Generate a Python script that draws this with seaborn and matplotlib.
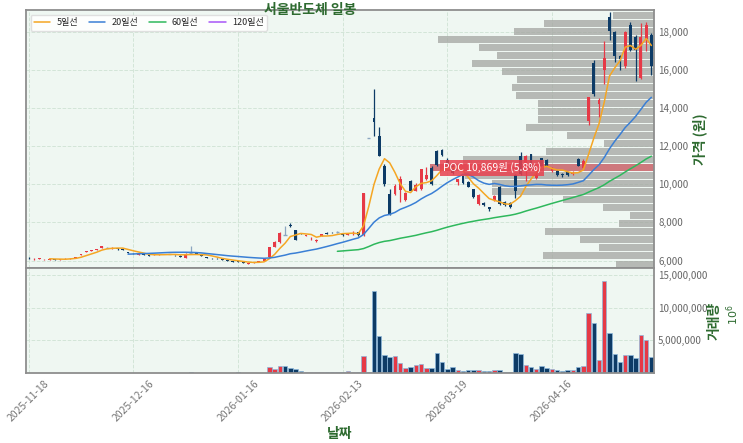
import numpy as np
import pandas as pd
import matplotlib
matplotlib.use('Agg')
import matplotlib.pyplot as plt
import matplotlib.transforms as mtransforms
from matplotlib.ticker import FuncFormatter
import seaborn as sns

sns.set_theme(style='whitegrid')
plt.rcParams['font.family'] = ['Noto Sans CJK KR', 'DejaVu Sans']
plt.rcParams['axes.unicode_minus'] = False

# daily candles (120 trading days, 2025-11-18 ~)
opens = [6150, 6060, 6090, 6030, 6050, 6080, 6050, 6090, 6110, 6140,
         6280, 6440, 6490, 6540, 6650, 6680, 6620, 6640, 6600, 6460,
         6370, 6300, 6320, 6290, 6280, 6310, 6330, 6340, 6300, 6260,
         6150, 6380, 6400, 6350, 6200, 6140, 6100, 6060, 6010, 5980,
         5960, 5920, 5820, 5860, 5930, 6000, 6170, 6720, 6950, 7340,
         7860, 7580, 7430, 7300, 7170, 7000, 7300, 7420, 7470, 7490,
         7380, 7360, 7440, 7500, 7320, 12410, 13470, 12510, 10980, 9500,
         9480, 9700, 9150, 10150, 9650, 9750, 10250, 10870, 11750, 11780,
         11250, 10950, 10100, 10450, 10100, 9730, 8950, 9030, 8800, 9150,
         9850, 9050, 9000, 10500, 11500, 10690, 11560, 10350, 11380, 11250,
         10700, 10720, 10560, 10640, 10550, 11300, 10860, 13300, 16370, 14200,
         16000, 18780, 18000, 16700, 16170, 18350, 17730, 15560, 17590, 17830]
highs = [6170, 6110, 6140, 6060, 6090, 6090, 6080, 6120, 6160, 6210,
         6350, 6520, 6550, 6600, 6780, 6730, 6700, 6650, 6630, 6470,
         6380, 6340, 6330, 6300, 6320, 6340, 6360, 6370, 6310, 6270,
         6380, 6740, 6420, 6360, 6210, 6150, 6110, 6070, 6020, 5990,
         5970, 5930, 5860, 5910, 5990, 6070, 6700, 7000, 7490, 7820,
         7950, 7600, 7450, 7350, 7210, 7110, 7410, 7480, 7520, 7560,
         7390, 7470, 7560, 7510, 9550, 12410, 14980, 13000, 11050, 9750,
         10020, 10450, 9600, 10200, 10050, 10800, 10900, 10950, 11800, 11850,
         11350, 11000, 10300, 10500, 10150, 9760, 9500, 9060, 8830, 9420,
         9900, 9100, 9050, 10550, 11700, 11550, 11600, 10700, 11400, 11300,
         10900, 10750, 10600, 10660, 10700, 11350, 11300, 14570, 16500, 14530,
         17480, 19040, 18050, 16750, 18050, 18500, 17800, 18430, 18520, 17900]
lows = [6100, 6050, 6080, 6020, 6040, 6040, 6040, 6080, 6100, 6130,
        6270, 6430, 6480, 6530, 6640, 6650, 6600, 6580, 6560, 6400,
        6320, 6290, 6290, 6250, 6270, 6300, 6320, 6320, 6260, 6200,
        6140, 6350, 6350, 6220, 6140, 6100, 6060, 6010, 5980, 5940,
        5920, 5870, 5800, 5850, 5920, 5990, 6160, 6700, 6940, 7320,
        7780, 7080, 7380, 7280, 7100, 6950, 7280, 7390, 7440, 7470,
        7310, 7350, 7340, 7300, 7300, 12410, 12540, 11460, 9900, 8400,
        9450, 9060, 9100, 9620, 9620, 9700, 10200, 9950, 10950, 11500,
        10950, 10550, 9950, 10000, 9830, 9280, 8900, 8880, 8600, 9100,
        8900, 8880, 8780, 9300, 10500, 10170, 10850, 10300, 10930, 10930,
        10650, 10450, 10400, 10450, 10500, 10930, 10800, 13100, 14600, 13500,
        15240, 17560, 16430, 16000, 16100, 17000, 15400, 15500, 16960, 15740]
closes = [6110, 6100, 6130, 6050, 6080, 6050, 6070, 6100, 6150, 6200,
          6340, 6510, 6540, 6590, 6760, 6680, 6650, 6590, 6580, 6420,
          6330, 6330, 6300, 6260, 6310, 6330, 6350, 6340, 6270, 6210,
          6370, 6380, 6360, 6230, 6150, 6110, 6070, 6020, 5990, 5950,
          5930, 5880, 5850, 5900, 5980, 6060, 6690, 6980, 7470, 7340,
          7810, 7100, 7390, 7340, 7200, 7100, 7400, 7400, 7450, 7490,
          7320, 7460, 7460, 7320, 9550, 12410, 13240, 11500, 10000, 8450,
          9900, 10300, 9520, 9650, 9980, 10780, 10500, 10000, 11000, 11550,
          11050, 10600, 10280, 10050, 9850, 9330, 9450, 8900, 8720, 9380,
          8950, 8900, 8800, 9650, 10540, 11470, 10870, 10500, 10950, 10950,
          10850, 10500, 10480, 10500, 10600, 10950, 11210, 14570, 14730, 14420,
          16610, 18030, 16700, 16580, 18000, 17040, 17040, 17730, 18370, 16170]
volumes = [60e3, 20e3, 20e3, 20e3, 20e3, 20e3, 20e3, 20e3, 20e3, 60e3,
           20e3, 60e3, 20e3, 20e3, 60e3, 20e3, 20e3, 60e3, 20e3, 20e3,
           20e3, 20e3, 20e3, 60e3, 20e3, 20e3, 20e3, 20e3, 20e3, 20e3,
           20e3, 80e3, 20e3, 60e3, 60e3, 20e3, 20e3, 20e3, 60e3, 60e3,
           80e3, 30e3, 60e3, 60e3, 60e3, 60e3, 0.86e6, 0.65e6, 1.06e6, 1.06e6,
           0.76e6, 0.55e6, 0.35e6, 0.12e6, 0.12e6, 0.12e6, 0.12e6, 0.10e6, 0.08e6, 0.12e6,
           0.08e6, 0.35e6, 0.10e6, 0.10e6, 2.67e6, 0.20e6, 12.6e6, 5.6e6, 2.8e6, 2.5e6,
           2.6e6, 1.5e6, 0.75e6, 0.85e6, 1.2e6, 1.4e6, 0.8e6, 0.8e6, 3.0e6, 1.7e6,
           0.6e6, 0.9e6, 0.4e6, 0.3e6, 0.5e6, 0.5e6, 0.4e6, 0.3e6, 0.3e6, 0.5e6,
           0.5e6, 0.2e6, 0.1e6, 3.1e6, 2.9e6, 1.3e6, 0.9e6, 0.6e6, 1.1e6, 0.7e6,
           0.6e6, 0.4e6, 0.3e6, 0.5e6, 0.5e6, 0.9e6, 1.1e6, 9.1e6, 7.6e6, 2.0e6,
           14.1e6, 6.1e6, 2.85e6, 1.65e6, 2.7e6, 2.8e6, 2.25e6, 5.75e6, 5.1e6, 2.5e6]

tick_pos = [0, 20, 40, 60, 80, 100]
tick_labels = ['2025-11-18', '2025-12-16', '2026-01-16', '2026-02-13', '2026-03-19', '2026-04-16']

# volume profile: share of volume (%) per price bin, low -> high
vp_low, vp_high = 5610, 19072
vp_pct = [0.98, 2.87, 1.42, 1.92, 2.82, 0.91, 0.62, 1.31, 2.35, 4.20,
          4.20, 4.89, 5.80, 4.94, 2.80, 1.29, 2.24, 3.30, 3.00, 3.00,
          3.00, 3.57, 3.68, 3.54, 3.93, 4.70, 4.05, 4.53, 5.59, 3.63,
          2.84, 1.05]

ma_windows = [5, 20, 60, 120]
ma_colors = ['#F5A623', '#3A7FD5', '#2EB85C', '#A855F7']

UP = '#E63946'
DOWN = '#0D3B66'
DOJI = '#8CA6C0'
GREEN = '#2E6B30'
BG = '#EFF7F2'

df = pd.DataFrame({'open': opens, 'high': highs, 'low': lows,
                   'close': closes, 'volume': volumes})
df['x'] = np.arange(len(df))
for w in ma_windows:
    df[f'ma{w}'] = df['close'].rolling(w).mean()

colors = np.where(df['close'] > df['open'], UP,
                  np.where(df['close'] < df['open'], DOWN, DOJI))
vol_colors = np.where(df['close'] > df['open'], UP, DOWN)

fig = plt.figure(figsize=(7.43, 4.43), dpi=100)
ax = fig.add_axes([0.035, 0.395, 0.8452, 0.5824])
axv = fig.add_axes([0.035, 0.158, 0.8452, 0.237], sharex=ax)

for a in (ax, axv):
    a.set_facecolor(BG)
    a.grid(True, linestyle='--', color='#D3E5D8', linewidth=0.7)
    for s in a.spines.values():
        s.set_color('#8E8E8E')
        s.set_linewidth(1.3)
    a.yaxis.tick_right()
    a.yaxis.set_label_position('right')
    a.tick_params(length=0, labelsize=7, labelcolor='#666666', pad=3)

xmin, xmax = -0.5, len(df) - 0.5

# volume profile on the right side (drawn under the candles)
edges = np.linspace(vp_low, vp_high, len(vp_pct) + 1)
centers = (edges[:-1] + edges[1:]) / 2
step = edges[1] - edges[0]
poc = int(np.argmax(vp_pct))
scale = 0.357 * (xmax - xmin) / max(vp_pct)
widths = np.array(vp_pct) * scale
ax.barh(centers, widths, left=xmax - widths, height=step * 0.87,
        color='#A3A5A1', alpha=0.75, linewidth=0, zorder=1.5)
ax.barh(centers[poc], widths[poc], left=xmax - widths[poc], height=step * 0.87,
        color=UP, alpha=0.5, linewidth=0, zorder=1.6)

# candles
ax.vlines(df['x'], df['low'], df['high'], colors=colors, linewidth=0.9, zorder=3)
body = (df['close'] - df['open']).abs()
ax.bar(df['x'], body, bottom=df[['open', 'close']].min(axis=1), width=0.55,
       color=colors, linewidth=0, zorder=4)
doji = df[df['close'] == df['open']]
ax.hlines(doji['close'], doji['x'] - 0.3, doji['x'] + 0.3, colors=DOJI, linewidth=1.0, zorder=4)

# moving averages
for w, c in zip(ma_windows, ma_colors):
    sns.lineplot(x=df['x'], y=df[f'ma{w}'], ax=ax, color=c, linewidth=1.1,
                 label=f'{w}일선', zorder=5)

trans = mtransforms.blended_transform_factory(ax.transAxes, ax.transData)
ax.text(0.664, centers[poc], f'POC {centers[poc]:,.0f}원 ({vp_pct[poc]:.1f}%)',
        transform=trans, ha='left', va='center', fontsize=7.5, color='white', zorder=7,
        bbox=dict(boxstyle='square,pad=0.25', facecolor='#E8414F', edgecolor='none', alpha=0.85))

ax.set_xlim(xmin, xmax)
ax.set_ylim(5610, 19130)
ax.set_yticks(np.arange(6000, 18001, 2000))
ax.yaxis.set_major_formatter(FuncFormatter(lambda v, p: f'{v:,.0f}'))
ax.set_xlabel('')
ax.set_ylabel('가격 (원)', color=GREEN, fontweight='bold', fontsize=10, labelpad=3)
ax.tick_params(labelbottom=False)
ax.legend(loc='upper left', ncol=4, fontsize=6.5, frameon=True, facecolor='white',
          edgecolor='#DDDDDD', framealpha=0.9, handlelength=1.8, handletextpad=0.7,
          columnspacing=1.2, borderpad=0.4)
ax.text(0.452, 1.0, '서울반도체 일봉', transform=ax.transAxes, ha='center', va='center',
        fontsize=10, fontweight='bold', color=GREEN, zorder=10)

# volume bars
axv.bar(df['x'], df['volume'], width=0.85, color=vol_colors, edgecolor='#8DB8DC', linewidth=0.5)
axv.set_ylim(0, 16.05e6)
axv.set_yticks([5e6, 10e6, 15e6])
axv.yaxis.set_major_formatter(FuncFormatter(lambda v, p: f'{v:,.0f}'))
axv.set_ylabel('거래량', color=GREEN, fontweight='bold', fontsize=10, labelpad=0)
fig.text(0.986, 0.290, '$10^6$', rotation=90, ha='center', va='center', fontsize=8, color=GREEN)
axv.set_xticks(tick_pos)
axv.set_xticklabels(tick_labels, rotation=45, fontsize=7.5, color='#777777')
axv.tick_params(axis='x', pad=4)
axv.set_xlabel('날짜', color=GREEN, fontweight='bold', fontsize=10, labelpad=2)

fig.savefig('out.png', dpi=100)
